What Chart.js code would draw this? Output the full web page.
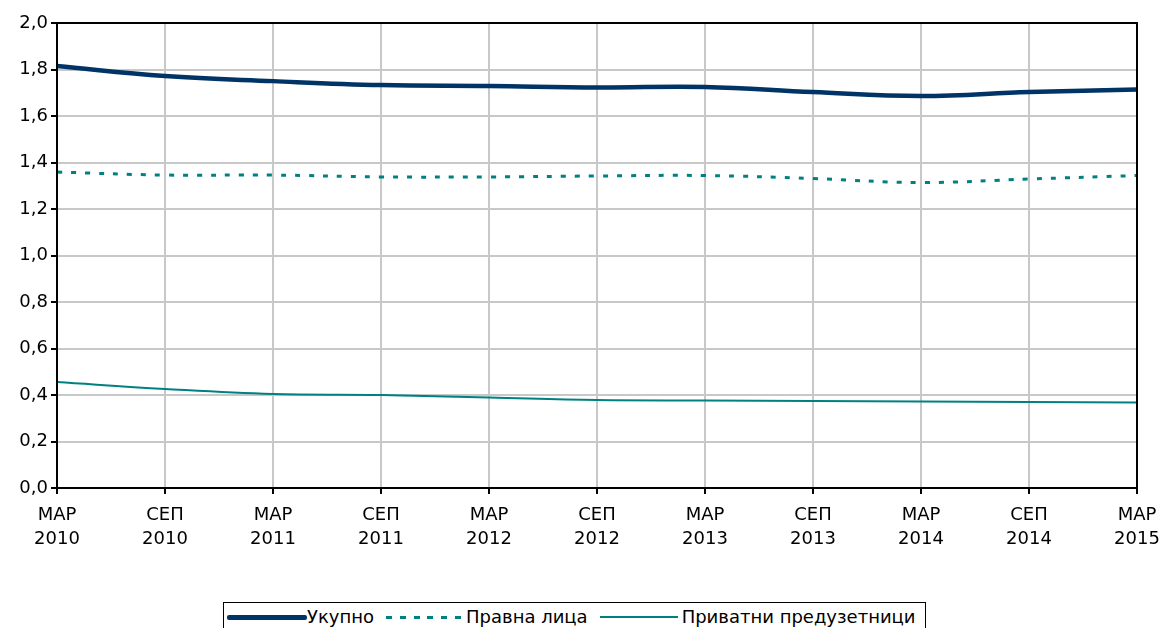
<!DOCTYPE html>
<html>
<head>
<meta charset="utf-8">
<script src="https://cdn.jsdelivr.net/npm/chart.js@4/dist/chart.umd.min.js"></script>
<style>
  html, body { margin: 0; padding: 0; background: #fff; }
  #wrap { position: relative; width: 1161px; height: 628px; overflow: hidden; }
  #legenda {
    position: absolute; left: 223px; top: 602px; width: 703px; height: 40px;
    border: 1px solid #000; box-sizing: border-box; background: #fff;
    font-family: "DejaVu Sans", sans-serif; font-size: 18px; color: #000;
    display: flex; align-items: flex-start; padding: 4px 0 0 3px; white-space: nowrap;
  }
  .item { display: flex; align-items: center; line-height: 20px; }
  .linija { display: inline-block; }
</style>
</head>
<body>
<div id="wrap">
  <canvas id="grafik" width="1161" height="628"></canvas>
  <div id="legenda"></div>
</div>
<script>
const periodi = [
  ["МАР", "2010"], ["СЕП", "2010"], ["МАР", "2011"], ["СЕП", "2011"],
  ["МАР", "2012"], ["СЕП", "2012"], ["МАР", "2013"], ["СЕП", "2013"],
  ["МАР", "2014"], ["СЕП", "2014"], ["МАР", "2015"]
];
const ukupno = [1.815, 1.772, 1.750, 1.733, 1.729, 1.723, 1.725, 1.703, 1.686, 1.703, 1.714];
const pravnaLica = [1.359, 1.346, 1.346, 1.338, 1.338, 1.342, 1.344, 1.331, 1.314, 1.329, 1.344];
const preduzetnici = [0.456, 0.426, 0.404, 0.400, 0.389, 0.378, 0.376, 0.374, 0.372, 0.370, 0.368];

const font = "'DejaVu Sans', sans-serif";

// okvir oko površine grafika
const okvir = {
  id: "okvir",
  afterDatasetsDraw(chart) {
    const a = chart.chartArea, c = chart.ctx;
    c.save();
    c.strokeStyle = "#000";
    c.lineWidth = 2;
    c.strokeRect(a.left, a.top, a.right - a.left, a.bottom - a.top);
    c.restore();
  }
};

const ctx = document.getElementById("grafik").getContext("2d");
new Chart(ctx, {
  type: "line",
  data: {
    labels: periodi,
    datasets: [
      { label: "Укупно", data: ukupno, borderColor: "#003366", borderWidth: 4.5, pointRadius: 0, tension: 0.4, fill: false },
      { label: "Правна лица", data: pravnaLica, borderColor: "#008080", borderWidth: 3, borderDash: [5, 9], pointRadius: 0, tension: 0.4, fill: false },
      { label: "Приватни предузетници", data: preduzetnici, borderColor: "#008080", borderWidth: 2, pointRadius: 0, tension: 0.4, fill: false }
    ]
  },
  options: {
    responsive: false,
    animation: false,
    layout: { padding: { top: 23, right: 24, bottom: 75, left: 0 } },
    plugins: { legend: { display: false }, tooltip: { enabled: false } },
    scales: {
      x: {
        offset: false,
        grid: { color: "#c8c8c8", lineWidth: 2, tickColor: "#000", tickLength: 6 },
        border: { color: "#000", width: 2 },
        ticks: { color: "#000", font: { family: font, size: 18, lineHeight: 1.3 }, maxRotation: 0, padding: 10, autoSkip: false },
        afterFit(s) { s.height = 65; s.paddingLeft = 0; s.paddingRight = 0; }
      },
      y: {
        min: 0, max: 2,
        grid: { color: "#c8c8c8", lineWidth: 2, tickColor: "#000", tickLength: 6 },
        border: { color: "#000", width: 2 },
        ticks: {
          stepSize: 0.2, color: "#000", font: { family: font, size: 18 }, padding: 3,
          callback: v => v.toFixed(1).replace(".", ",")
        },
        afterFit(s) { s.width = 57; s.paddingTop = 0; s.paddingBottom = 0; }
      }
    }
  },
  plugins: [okvir]
});

// legenda
const legenda = document.getElementById("legenda");
[
  { tekst: "Укупно", razmak: 0, tekstRazmak: 0, stil: "width: 80px; height: 5px; background: #003366; border-radius: 2px;" },
  { tekst: "Правна лица", razmak: 12, tekstRazmak: 5, stil: "width: 75px; height: 3px; background: repeating-linear-gradient(to right, #008080 0 6px, transparent 6px 13.8px);" },
  { tekst: "Приватни предузетници", razmak: 12, tekstRazmak: 4, stil: "width: 78px; height: 2px; background: #008080;" }
].forEach(s => {
  const el = document.createElement("span");
  el.className = "item";
  el.style.marginLeft = s.razmak + "px";
  const l = document.createElement("span");
  l.className = "linija";
  l.style.cssText = s.stil;
  l.style.marginRight = s.tekstRazmak + "px";
  el.appendChild(l);
  el.appendChild(document.createTextNode(s.tekst));
  legenda.appendChild(el);
});
</script>
</body>
</html>
